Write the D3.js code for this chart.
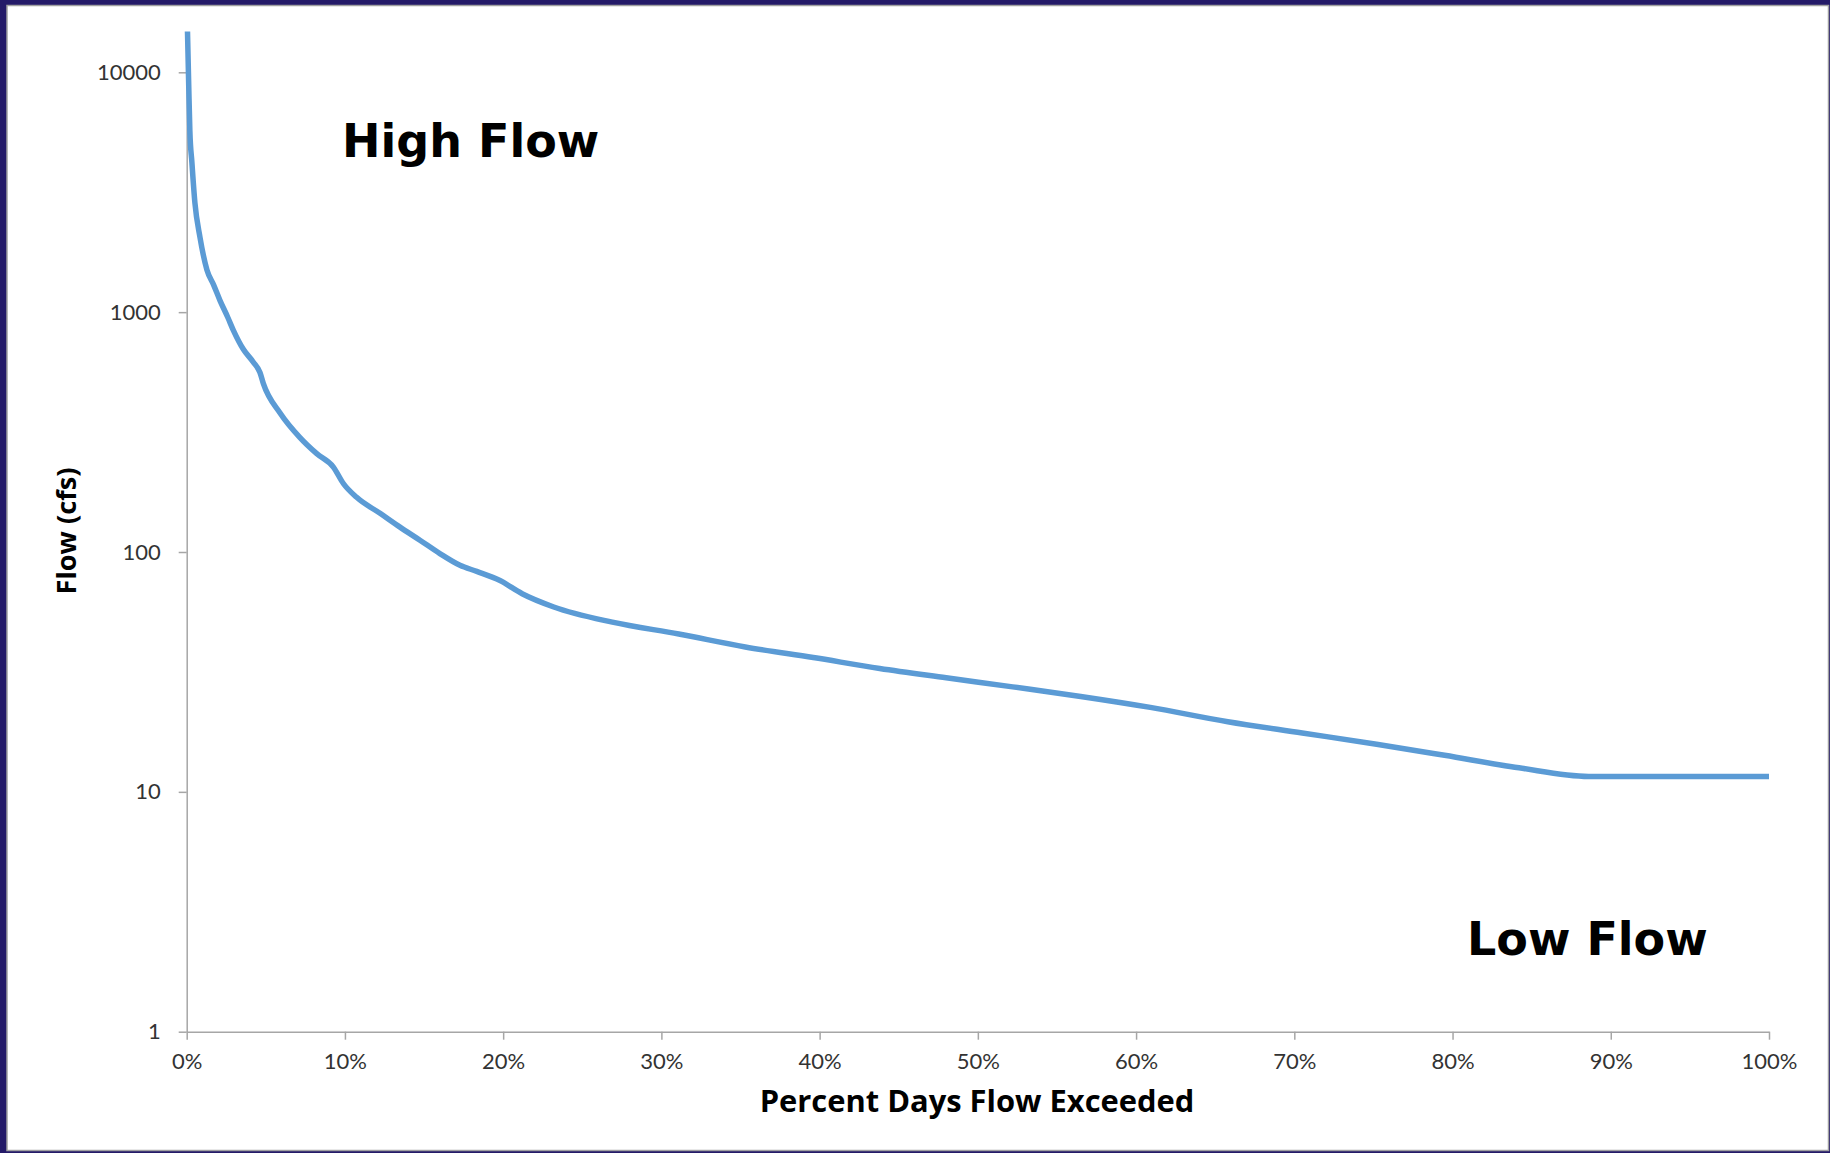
<!DOCTYPE html>
<html lang="en">
<head>
  <meta charset="UTF-8">
  <title>Flow Duration Curve</title>
  <script src="https://d3js.org/d3.v7.min.js"></script>
  <style>
    body {
      margin: 0;
      background: #241a68;
    }
    .tick text {
      font-family: Lato, "Open Sans", sans-serif;
      font-size: 22px;
      fill: #333;
    }
    .axis path, .axis line {
      stroke: #a6a6a6;
      stroke-width: 1.5px;
    }
    .title {
      font-family: "Open Sans", Lato, sans-serif;
      font-weight: bold;
      fill: #000;
    }
    .note {
      font-family: "DejaVu Sans", Verdana, sans-serif;
      font-weight: bold;
      font-size: 46px;
      fill: #000;
    }
  </style>
</head>
<body>
  <div id="chart"></div>

  <script>
    // percent of days flow exceeded (fraction) and flow (cfs)
    const pctExceeded = [0.0005, 0.0013, 0.002, 0.0033, 0.0052, 0.0084, 0.0128, 0.017, 0.021, 0.026,
                         0.0295, 0.0358, 0.042, 0.0463, 0.0484, 0.059, 0.0716, 0.0822, 0.0927, 0.099,
                         0.1074, 0.1222, 0.1348, 0.1474, 0.16, 0.1727, 0.1833, 0.198, 0.212, 0.232,
                         0.269, 0.311, 0.353, 0.396, 0.438, 0.48, 0.522, 0.565, 0.609, 0.658,
                         0.705, 0.752, 0.795, 0.842, 0.886, 1.0];
    const flowCfs = [14800, 8700, 5700, 4200, 2850, 2050, 1500, 1300, 1120, 950,
                     840, 700, 620, 560, 505, 380, 300, 257, 226, 193,
                     169, 145, 127, 112, 98.5, 88, 83, 76, 67, 59,
                     51, 45.5, 40.2, 36.3, 32.7, 29.9, 27.4, 25.0, 22.5, 19.6,
                     17.6, 15.8, 14.2, 12.6, 11.6, 11.6];
    const flowTicks = [1, 10, 100, 1000, 10000];
    const pctTicks = [0, 0.1, 0.2, 0.3, 0.4, 0.5, 0.6, 0.7, 0.8, 0.9, 1.0];

    const W = 1830, H = 1153;
    const plotL = 186.7, plotR = 1769, plotT = 72.3, plotB = 1031.7;

    const svg = d3.select("#chart")
                  .append("svg")
                  .attr("width", W)
                  .attr("height", H)
                  .style("display", "block");

    svg.append("rect")
       .attr("x", 7).attr("y", 5.5)
       .attr("width", 1821.5).attr("height", 1145)
       .attr("fill", "#fff")
       .attr("stroke", "#a0a0a0")
       .attr("stroke-width", 1.5);

    const x = d3.scaleLinear().domain([0, 1]).range([plotL, plotR]);
    const y = d3.scaleLog().domain([1, 10000]).range([plotB, plotT]);

    const yAxis = d3.axisLeft(y)
                    .tickValues(flowTicks)
                    .tickFormat(d3.format("d"))
                    .tickSize(8)
                    .tickSizeOuter(0)
                    .tickPadding(18);
    const xAxis = d3.axisBottom(x)
                    .tickValues(pctTicks)
                    .tickFormat(d3.format(".0%"))
                    .tickSize(8)
                    .tickSizeOuter(0)
                    .tickPadding(14);

    svg.append("g").attr("class", "axis")
       .attr("transform", `translate(${plotL},0)`)
       .call(yAxis);
    svg.append("g").attr("class", "axis")
       .attr("transform", `translate(0,${plotB})`)
       .call(xAxis);

    const data = pctExceeded.map((p, i) => ({p: p, q: flowCfs[i]}));

    const line = d3.line()
                   .curve(d3.curveMonotoneX)
                   .x(d => x(d.p))
                   .y(d => y(d.q));

    svg.append("path")
       .datum(data)
       .attr("fill", "none")
       .attr("stroke", "#5b9bd5")
       .attr("stroke-width", 5.5)
       .attr("stroke-linejoin", "round")
       .attr("d", line);

    // size a title so it spans the same width as in the picture
    function fitText(sel, target) {
      const len = sel.node().getComputedTextLength();
      sel.style("font-size", (26 * target / len) + "px");
    }

    // axis titles
    const xTitle = svg.append("text")
       .attr("class", "title")
       .attr("x", 977)
       .attr("y", 1112)
       .attr("text-anchor", "middle")
       .style("font-size", "26px")
       .text("Percent Days Flow Exceeded");
    fitText(xTitle, 435);

    const yTitle = svg.append("text")
       .attr("class", "title")
       .attr("transform", "translate(76,531) rotate(-90)")
       .attr("text-anchor", "middle")
       .style("font-size", "26px")
       .text("Flow (cfs)");
    fitText(yTitle, 127);

    svg.append("text").attr("class", "note")
       .attr("x", 342).attr("y", 156.7)
       .text("High Flow");

    svg.append("text").attr("class", "note")
       .attr("x", 1467).attr("y", 955)
       .text("Low Flow");
  </script>
</body>
</html>
